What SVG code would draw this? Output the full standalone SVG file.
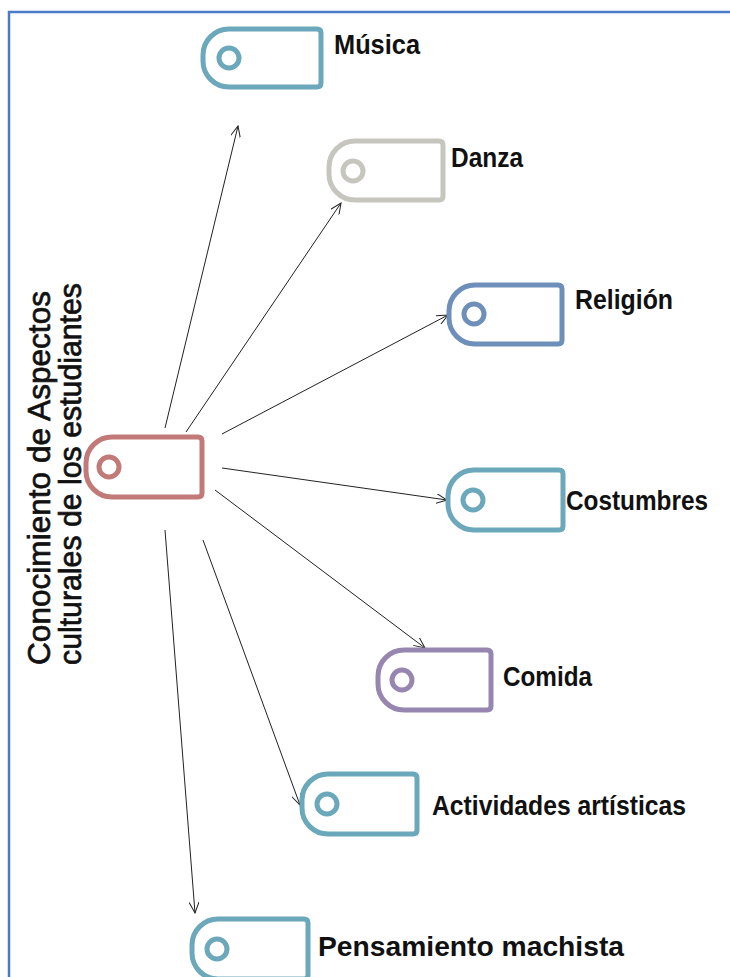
<svg xmlns="http://www.w3.org/2000/svg" width="730" height="977" viewBox="0 0 730 977">
<defs>
<style>
.tag{fill:#fff;stroke-width:5;stroke-linejoin:round}
.dot{fill:#fff;stroke-width:5}
.teal{stroke:#6ba8bb}
.gray{stroke:#c6c6bf}
.blue{stroke:#6e8fba}
.purple{stroke:#9787b0}
.red{stroke:#c27a78}
.lbl{font-family:"Liberation Sans",Arial,sans-serif;font-weight:bold;font-size:28px;fill:#111}
.side{font-family:"Liberation Sans",Arial,sans-serif;font-size:31px;fill:#111;stroke:#111;stroke-width:0.7;text-anchor:middle}
.conn line{stroke:#222;stroke-width:1;marker-end:url(#arr)}
</style>
<marker id="arr" viewBox="0 0 12 10" refX="11" refY="5" markerWidth="12" markerHeight="10" markerUnits="userSpaceOnUse" orient="auto">
<path d="M0,0 L11,5 L0,10" fill="none" stroke="#222" stroke-width="1"/>
</marker>
</defs>
<rect width="730" height="977" fill="#fff"/>
<rect x="9" y="12" width="760" height="1000" fill="none" stroke="#4a7bc8" stroke-width="2.5"/>

<g id="conectores" class="conn">
<line x1="165" y1="428" x2="238" y2="126"/>
<line x1="186" y1="432" x2="341" y2="203"/>
<line x1="222" y1="434" x2="448" y2="315"/>
<line x1="222" y1="468" x2="447" y2="500"/>
<line x1="215" y1="490" x2="425" y2="648"/>
<line x1="203" y1="540" x2="300" y2="805"/>
<line x1="165" y1="530" x2="195" y2="913"/>
</g>

<g id="centro">
<path class="tag red" d="M112,437 H198 Q202,437 202,441 V493 Q202,497 198,497 H112 A26,26 0 0 1 86,471 V463 A26,26 0 0 1 112,437 Z"/>
<circle class="dot red" cx="109" cy="467" r="10"/>
<text class="side" transform="translate(50,478) rotate(-90)" textLength="374" lengthAdjust="spacingAndGlyphs">Conocimiento de Aspectos</text>
<text class="side" transform="translate(81,474) rotate(-90)" textLength="382" lengthAdjust="spacingAndGlyphs">culturales de los estudiantes</text>
</g>

<g id="musica">
<path class="tag teal" d="M229,29 H317 Q321,29 321,33 V83 Q321,87 317,87 H229 A26,26 0 0 1 203,61 V55 A26,26 0 0 1 229,29 Z"/>
<circle class="dot teal" cx="229" cy="58" r="10"/>
<text class="lbl" x="334" y="54" textLength="86" lengthAdjust="spacingAndGlyphs">Música</text>
</g>

<g id="danza">
<path class="tag gray" d="M355,141 H439 Q443,141 443,145 V196 Q443,200 439,200 H355 A26,26 0 0 1 329,174 V167 A26,26 0 0 1 355,141 Z"/>
<circle class="dot gray" cx="353" cy="171" r="10"/>
<text class="lbl" x="451" y="167" textLength="72" lengthAdjust="spacingAndGlyphs">Danza</text>
</g>

<g id="religion">
<path class="tag blue" d="M475,285 H558 Q562,285 562,289 V340 Q562,344 558,344 H475 A26,26 0 0 1 449,318 V311 A26,26 0 0 1 475,285 Z"/>
<circle class="dot blue" cx="474" cy="314" r="10"/>
<text class="lbl" x="575" y="309" textLength="98" lengthAdjust="spacingAndGlyphs">Religión</text>
</g>

<g id="costumbres">
<path class="tag teal" d="M474,470 H559 Q563,470 563,474 V526 Q563,530 559,530 H474 A26,26 0 0 1 448,504 V496 A26,26 0 0 1 474,470 Z"/>
<circle class="dot teal" cx="473" cy="500" r="10"/>
<text class="lbl" x="566" y="510" textLength="142" lengthAdjust="spacingAndGlyphs">Costumbres</text>
</g>

<g id="comida">
<path class="tag purple" d="M404,650 H487 Q491,650 491,654 V706 Q491,710 487,710 H404 A26,26 0 0 1 378,684 V676 A26,26 0 0 1 404,650 Z"/>
<circle class="dot purple" cx="402" cy="680" r="10"/>
<text class="lbl" x="503" y="686" textLength="89" lengthAdjust="spacingAndGlyphs">Comida</text>
</g>

<g id="actividades">
<path class="tag teal" d="M328,774 H413 Q417,774 417,778 V830 Q417,834 413,834 H328 A26,26 0 0 1 302,808 V800 A26,26 0 0 1 328,774 Z"/>
<circle class="dot teal" cx="327" cy="804" r="10"/>
<text class="lbl" x="432" y="815" textLength="254" lengthAdjust="spacingAndGlyphs">Actividades artísticas</text>
</g>

<g id="pensamiento">
<path class="tag teal" d="M218,919 H304 Q308,919 308,923 V975 Q308,979 304,979 H218 A26,26 0 0 1 192,953 V945 A26,26 0 0 1 218,919 Z"/>
<circle class="dot teal" cx="217" cy="949" r="10"/>
<text class="lbl" x="318" y="956" textLength="306" lengthAdjust="spacingAndGlyphs">Pensamiento machista</text>
</g>
</svg>
